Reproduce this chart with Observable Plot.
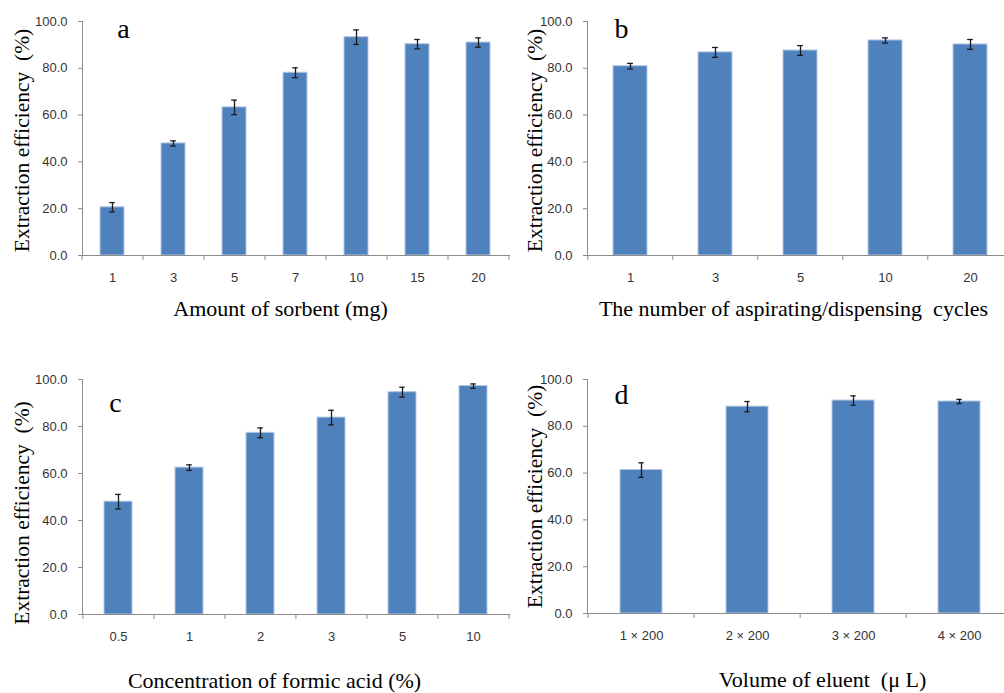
<!DOCTYPE html>
<html><head><meta charset="utf-8">
<script src="https://cdn.jsdelivr.net/npm/d3@7"></script>
<script src="https://cdn.jsdelivr.net/npm/@observablehq/plot@0.6"></script>
<style>
body{margin:0;background:#fff;}
#wrap{position:relative;width:1004px;height:693px;overflow:hidden;background:#fff;}
#wrap svg{position:absolute;}
</style></head><body><div id="wrap"></div>
<script>
// Panel a
const catsA = ["1","3","5","7","10","15","20"];
const valsA = [20.6,47.9,63.3,78.1,93.3,90.3,91.0];
const errsA = [2.0,1.1,3.1,2.1,3.1,2.0,2.0];
// Panel b
const catsB = ["1","3","5","10","20"];
const valsB = [80.9,86.8,87.6,91.9,90.2];
const errsB = [1.2,2.1,2.1,1.1,2.1];
// Panel c
const catsC = ["0.5","1","2","3","5","10"];
const valsC = [48.0,62.5,77.3,83.8,94.6,97.2];
const errsC = [3.1,1.2,2.1,3.1,2.1,0.9];
// Panel d
const catsD = ["1 × 200","2 × 200","3 × 200","4 × 200"];
const valsD = [61.3,88.4,91.0,90.6];
const errsD = [3.1,2.2,2.0,0.9];

const yTicks = [0,20,40,60,80,100];
const yTitle = "Extraction efficiency\u00a0 (%)";
const serif = "'Liberation Serif','Times New Roman',serif";
const sans = "'Liberation Sans',Arial,sans-serif";

function panel(o){
  const data = o.cats.map((c,i)=>({cat:c, val:o.vals[i], err:o.errs[i]}));
  const ml = 82;
  const plotW = o.width - ml - o.mr;
  const step = plotW / o.cats.length;
  const bw = 0.4*step;
  const ins = bw/2 - 3;
  const svg = Plot.plot({
    width:o.width, height:o.height,
    marginLeft:ml, marginRight:o.mr, marginTop:o.mt, marginBottom:o.mb,
    style:{background:"none", fontFamily:sans, overflow:"visible"},
    x:{domain:o.cats, paddingInner:0.6, paddingOuter:0.3, axis:null},
    y:{domain:[0,100], axis:null},
    marks:[
      Plot.barY(data,{x:"cat", y:"val", fill:"#4F81BD", stroke:"#B3C7E3", strokeWidth:1}),
      Plot.ruleX(data,{x:"cat", y1:d=>d.val-d.err, y2:d=>d.val+d.err, stroke:"#1a1a1a", strokeWidth:1.3}),
      Plot.tickY(data,{x:"cat", y:d=>d.val-d.err, insetLeft:ins, insetRight:ins, stroke:"#1a1a1a", strokeWidth:1.3}),
      Plot.tickY(data,{x:"cat", y:d=>d.val+d.err, insetLeft:ins, insetRight:ins, stroke:"#1a1a1a", strokeWidth:1.3}),
      Plot.axisY({ticks:yTicks, tickFormat:d=>d.toFixed(1), tickSize:4, tickPadding:11, label:null, stroke:"#8c8c8c", fill:"#333", fontSize:13, fontFamily:sans}),
      Plot.axisX({tickSize:0, tickPadding:17, label:null, fill:"#333", fontSize:13, fontFamily:sans}),
      Plot.axisX({tickSize:5, tickFormat:()=>"", label:null, dx:-step/2, stroke:"#8c8c8c"}),
      Plot.axisX([o.cats[o.cats.length-1]],{tickSize:5, tickFormat:()=>"", label:null, dx:step/2, stroke:"#8c8c8c"}),
      Plot.frame({anchor:"left", stroke:"#8c8c8c"}),
      Plot.frame({anchor:"bottom", stroke:"#8c8c8c"}),
      Plot.text([o.letter],{text:d=>d, frameAnchor:"top-left", dx:o.ldx, dy:o.ldy, textAnchor:"middle", lineAnchor:"middle", fontFamily:serif, fontSize:28, fill:"#000"}),
      Plot.text([yTitle],{text:d=>d, frameAnchor:"left", rotate:-90, dx:o.ydx, dy:o.ydy, textAnchor:"middle", lineAnchor:"middle", fontFamily:serif, fontSize:21.5, fill:"#000"}),
      Plot.text([o.xTitle],{text:d=>d, frameAnchor:"bottom", dx:o.xdx, dy:o.xdy, textAnchor:"middle", lineAnchor:"middle", fontFamily:serif, fontSize:22, fill:"#000"})
    ]
  });
  svg.style.left = o.left+"px";
  svg.style.top = o.top+"px";
  svg.style.maxWidth = "none";
  document.getElementById("wrap").appendChild(svg);
}

panel({cats:catsA, vals:valsA, errs:errsA, letter:"a", xTitle:"Amount of sorbent (mg)",
  left:0, top:0, width:520, height:330, mr:11, mt:21, mb:75,
  ldx:41, ldy:7.5, ydx:-60, ydy:2, xdx:-15.5, xdy:53});
panel({cats:catsB, vals:valsB, errs:errsB, letter:"b", xTitle:"The number of aspirating/dispensing\u00a0 cycles",
  left:505, top:0, width:509, height:330, mr:0, mt:21, mb:75,
  ldx:34, ldy:8, ydx:-52, ydy:2, xdx:-7.5, xdy:53});
panel({cats:catsC, vals:valsC, errs:errsC, letter:"c", xTitle:"Concentration of formic acid (%)",
  left:0, top:330, width:520, height:363, mr:11, mt:49, mb:79,
  ldx:33, ldy:23.5, ydx:-60, ydy:16, xdx:-21.5, xdy:66});
panel({cats:catsD, vals:valsD, errs:errsD, letter:"d", xTitle:"Volume of eluent\u00a0 (μ L)",
  left:505, top:330, width:509, height:363, mr:0, mt:49, mb:80,
  ldx:34, ldy:15.5, ydx:-52, ydy:0, xdx:21.5, xdy:66});
</script>
</body></html>
